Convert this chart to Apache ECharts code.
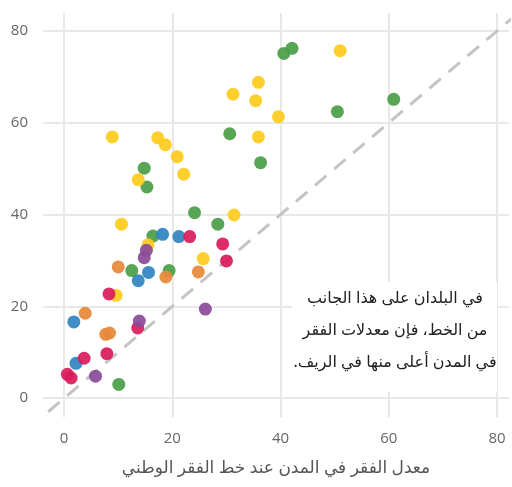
<!DOCTYPE html>
<html>
<head>
<meta charset="utf-8">
<script src="https://cdn.jsdelivr.net/npm/echarts@6/dist/echarts.min.js"></script>
<style>
  html, body { margin: 0; padding: 0; background: #fff; }
  #chart { width: 512px; height: 487px; }
</style>
</head>
<body>
<div id="chart"></div>
<script>
// نقاط كل منطقة: [الحضر, الريف]
var greenPts = [[30.6,57.6],[14.8,50.1],[15.3,46.0],[24.1,40.4],[36.3,51.3],[40.6,75.1],[42.1,76.2],
    [50.5,62.4],[60.9,65.1],[28.4,37.9],[16.4,35.3],[12.5,27.8],[19.4,27.8],[10.1,3.0]];
var yellowPts = [[8.9,56.9],[17.3,56.7],[18.7,55.2],[20.9,52.6],[22.1,48.8],[13.7,47.6],[31.2,66.2],
    [31.4,39.9],[35.9,68.8],[35.4,64.8],[39.6,61.3],[35.9,56.9],[51.0,75.7],[10.6,37.9],[15.5,33.4],
    [25.7,30.4],[9.6,22.4]];
var bluePts = [[18.2,35.7],[21.2,35.2],[15.6,27.4],[13.7,25.6],[1.8,16.6],[2.2,7.6]];
var redPts = [[23.2,35.2],[29.3,33.6],[30.0,29.9],[8.3,22.7],[13.6,15.3],[7.9,9.7],[3.7,8.7],[0.6,5.2],[1.3,4.4]];
var orangePts = [[10.0,28.6],[18.8,26.4],[24.8,27.5],[3.9,18.5],[7.7,13.9],[8.4,14.2]];
var purplePts = [[15.2,32.2],[14.8,30.6],[26.1,19.4],[13.9,16.8],[5.8,4.8]];

var refLine = [[-10,-10],[90,90]];
var xName = 'معدل الفقر في المدن عند خط الفقر الوطني';
var noteLines = ['في البلدان على هذا الجانب', 'من الخط، فإن معدلات الفقر', 'في المدن أعلى منها في الريف.\u200F'];

var chart = echarts.init(document.getElementById('chart'));

function dots(data, color) {
    return {
        type: 'scatter',
        data: data,
        symbolSize: 13,
        itemStyle: { color: color, opacity: 0.92 },
        z: 3
    };
}

var option = {
    backgroundColor: '#fff',
    animation: false,
    grid: { left: 43, right: 0, top: 13, bottom: 70 },
    xAxis: {
        type: 'value',
        min: -3.9, max: 82.2,
        name: xName,
        nameLocation: 'middle',
        nameGap: 43,
        nameTextStyle: { color: '#555', fontSize: 17, fontFamily: 'Noto Sans, DejaVu Sans, sans-serif' },
        axisLine: { show: false },
        axisTick: { show: false },
        axisLabel: {
            color: '#666', fontSize: 15, margin: 14,
            fontFamily: 'Open Sans, sans-serif',
            formatter: function (v) { return v % 20 === 0 ? v : ''; }
        },
        splitLine: { lineStyle: { color: '#e8e8e8', width: 2 }, showMinLine: false, showMaxLine: false }
    },
    yAxis: {
        type: 'value',
        min: -4.1, max: 83.9,
        axisLine: { show: false },
        axisTick: { show: false },
        axisLabel: {
            color: '#666', fontSize: 15, margin: 15,
            fontFamily: 'Open Sans, sans-serif',
            formatter: function (v) { return v % 20 === 0 ? v : ''; }
        },
        splitLine: { lineStyle: { color: '#e8e8e8', width: 2 }, showMinLine: false, showMaxLine: false }
    },
    graphic: [{
        type: 'rect',
        z: 10,
        shape: { x: 292, y: 282, width: 205, height: 110 },
        style: { fill: '#fff' }
    }, {
        type: 'text',
        z: 11,
        style: {
            x: 395,
            y: 282,
            text: noteLines.join('\n'),
            fill: '#222',
            fontSize: 16,
            lineHeight: 32,
            align: 'center',
            verticalAlign: 'top',
            fontFamily: 'Noto Sans, DejaVu Sans, sans-serif'
        }
    }],
    series: [
        {
            type: 'line',
            data: refLine,
            symbol: 'none',
            silent: true,
            clip: true,
            lineStyle: { color: '#c4c4c4', width: 3, type: [15, 10] },
            z: 2
        },
        dots(greenPts, '#4a9d47'),
        dots(yellowPts, '#ffcb1b'),
        dots(bluePts, '#2e84c0'),
        dots(orangePts, '#e6893a'),
        dots(redPts, '#d91b5b'),
        dots(purplePts, '#8a4b98')
    ]
};

chart.setOption(option);
</script>
</body>
</html>
